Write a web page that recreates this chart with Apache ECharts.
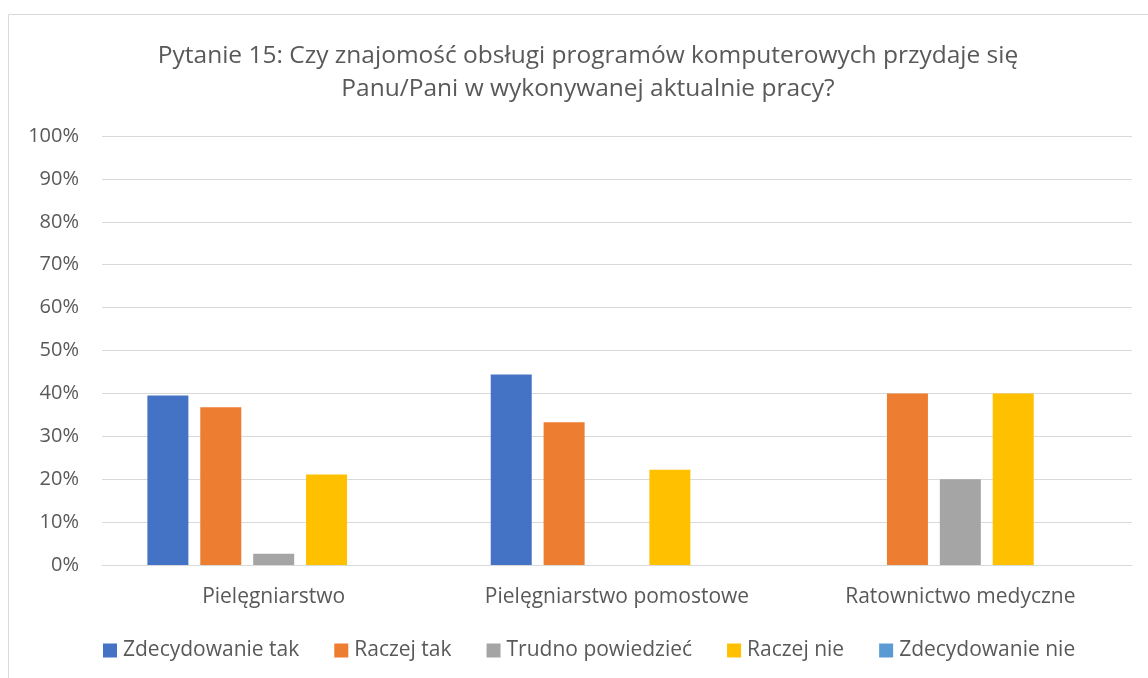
<!DOCTYPE html>
<html>
<head>
<meta charset="utf-8">
<script src="https://cdn.jsdelivr.net/npm/echarts@6/dist/echarts.min.js"></script>
<style>
    html, body { margin: 0; padding: 0; background: #fff; }
    #chart { width: 1148px; height: 678px; }
</style>
</head>
<body>
<div id="chart"></div>
<script>
// kategorie i odpowiedzi
const categories = ['Pielęgniarstwo', 'Pielęgniarstwo pomostowe', 'Ratownictwo medyczne'];
const seriesNames = ['Zdecydowanie tak', 'Raczej tak', 'Trudno powiedzieć', 'Raczej nie', 'Zdecydowanie nie'];
const seriesColors = ['#4472c4', '#ed7d31', '#a5a5a5', '#ffc000', '#5b9bd5'];

// wartości w procentach
const zdecydowanieTak = [39.5, 44.4, 0];
const raczejTak = [36.8, 33.3, 40];
const trudnoPowiedziec = [2.6, 0, 20];
const raczejNie = [21.1, 22.2, 40];
const zdecydowanieNie = [0, 0, 0];

const seriesValues = [zdecydowanieTak, raczejTak, trudnoPowiedziec, raczejNie, zdecydowanieNie];

const fontFamily = '"Open Sans", "Noto Sans", sans-serif';
const textColor = '#595959';

const chart = echarts.init(document.getElementById('chart'));

const option = {
    animation: false,
    textStyle: { fontFamily: fontFamily, color: textColor },
    title: {
        text: 'Pytanie 15: Czy znajomość obsługi programów komputerowych przydaje się\nPanu/Pani w wykonywanej aktualnie pracy?',
        left: 588,
        textAlign: 'center',
        top: 40,
        padding: 0,
        textStyle: {
            fontFamily: fontFamily,
            fontSize: 24.5,
            fontWeight: 'normal',
            color: textColor,
            lineHeight: 33
        }
    },
    legend: {
        data: seriesNames,
        left: 103,
        top: 640,
        padding: 0,
        itemWidth: 14,
        itemHeight: 14,
        itemGap: 35,
        icon: 'rect',
        textStyle: { fontFamily: fontFamily, fontSize: 21, color: textColor, padding: [0, 0, 0, 1] }
    },
    grid: {
        left: 102,
        right: 16,
        top: 136,
        bottom: 113
    },
    graphic: [{
        type: 'rect',
        shape: { x: 8.5, y: 14.5, width: 1200, height: 700 },
        style: { fill: 'none', stroke: '#d9d9d9', lineWidth: 1 },
        silent: true
    }],
    xAxis: {
        type: 'category',
        data: categories,
        axisLine: { lineStyle: { color: '#d9d9d9', width: 1 } },
        axisTick: { show: false },
        axisLabel: { fontSize: 21, color: textColor, margin: 22, interval: 0, fontFamily: fontFamily }
    },
    yAxis: {
        type: 'value',
        min: 0,
        max: 100,
        interval: 10,
        axisLine: { show: false },
        axisTick: { show: false },
        splitLine: { lineStyle: { color: '#d9d9d9', width: 1 } },
        axisLabel: {
            formatter: '{value}%',
            fontSize: 20,
            color: textColor,
            margin: 23,
            fontFamily: fontFamily
        }
    },
    series: seriesNames.map((name, i) => ({
        name: name,
        type: 'bar',
        data: seriesValues[i],
        barWidth: 41,
        barGap: '29%',
        itemStyle: { color: seriesColors[i] }
    }))
};

chart.setOption(option);
</script>
</body>
</html>
